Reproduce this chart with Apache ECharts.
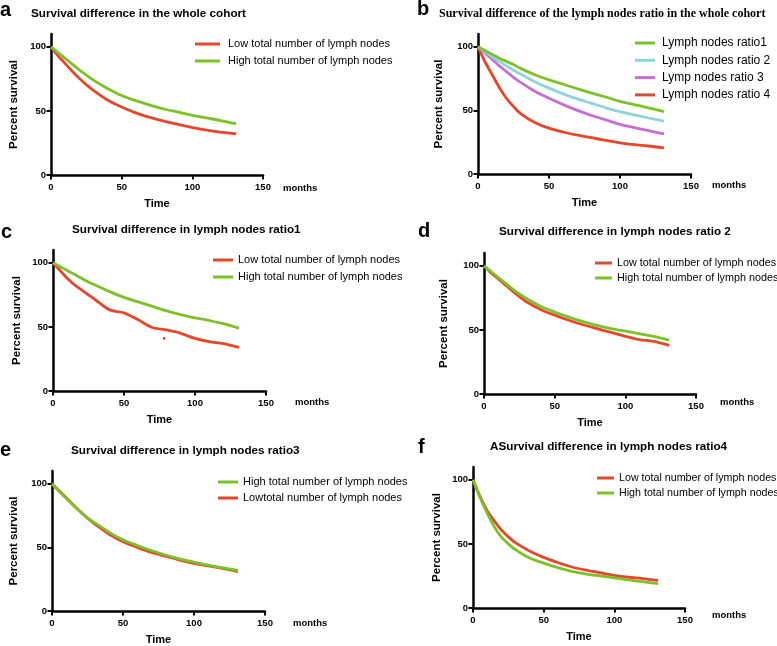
<!DOCTYPE html>
<html>
<head>
<meta charset="utf-8">
<script src="https://cdn.jsdelivr.net/npm/echarts@6/dist/echarts.min.js"></script>
<style>html,body{margin:0;padding:0;background:#fff}#c{width:777px;height:646px}</style>
</head>
<body>
<div id="c"></div>
<script>
// ---- data ----
var months = [0, 5, 10, 15, 20, 25, 30, 40, 50, 60, 70, 80, 90, 100, 110, 120, 131];
var yTicks = [0, 50, 100];

var aLow  = [100, 93, 87, 81, 75.5, 70.5, 66, 58.5, 53, 48.5, 45, 42, 39.5, 37, 35, 33.5, 32];
var aHigh = [100, 95.5, 91, 86.5, 82, 78, 74, 67.5, 62, 58, 54.5, 51.5, 49, 46.5, 44.5, 42.5, 40];

var bR1 = [100, 97, 94, 91, 88.5, 86, 83, 78, 74, 70.5, 67, 63.5, 60.5, 57, 54.5, 52, 49];
var bR2 = [100, 96, 92, 88.5, 85, 81.5, 78.5, 72.5, 67.5, 63, 59, 55.5, 52, 49, 46.5, 44, 41.5];
var bR3 = [100, 95, 90, 85, 80.5, 76, 72, 65, 59.5, 54.5, 50, 46, 42.5, 39, 36.5, 34, 31.5];
var bR4 = [100, 88, 78, 68, 59.5, 53, 47.5, 40.5, 36, 33, 30.5, 28.5, 26.5, 24.5, 23, 22, 20.5];

var cLow  = [100, 94, 88, 83, 79, 75, 71, 63.3, 61, 55.5, 49.5, 47.6, 45, 41, 38.5, 37, 34];
var cHigh = [100, 97, 94, 91, 88, 85, 82.5, 77.5, 73, 69.5, 66, 62.5, 59.5, 57, 55, 52.5, 49];
var cStrayT = [77.5, 79];
var cStrayV = [41, 41];

var dLow  = [100, 94.5, 90, 85, 80.5, 76, 72, 66, 61.5, 57.5, 54, 51, 48, 45, 42.5, 41, 38];
var dHigh = [100, 95.5, 91, 86.5, 82, 78, 74.5, 68.5, 64, 60, 56.5, 53.5, 51, 49, 47, 45, 42];

var eHigh = [100, 94, 88.5, 83, 78, 73, 69.5, 62, 56, 51.5, 47.5, 44, 41, 38.5, 36, 34, 32];
var eLow  = [100, 94.5, 89, 83.5, 78, 73, 68.5, 60.5, 54.5, 50, 46, 43, 40, 37.5, 35.5, 33.5, 31];

var fLow  = [100, 87, 76, 68, 61, 55.5, 51, 44.5, 39.5, 35.5, 32, 29.5, 27.5, 25.5, 24, 23, 21.5];
var fHigh = [100, 86, 74, 63.5, 55.5, 50, 45.5, 39, 35, 31.5, 28.5, 26.5, 25, 23.5, 22, 20.5, 19];

var nLow = 'Low total number of lymph nodes';
var nHigh = 'High total number of lymph nodes';
var nLowE = 'Lowtotal number of lymph nodes';
var nR = ['Lymph nodes ratio1', 'Lymph nodes ratio 2', 'Lymp nodes ratio 3', 'Lymph nodes ratio 4'];

var titles = [
  'Survival difference in the whole cohort',
  'Survival difference of the lymph nodes ratio in the whole cohort',
  'Survival difference in lymph nodes ratio1',
  'Survival difference in lymph nodes ratio 2',
  'Survival difference in lymph nodes ratio3',
  'ASurvival difference in lymph nodes ratio4'
];
var letters = ['a', 'b', 'c', 'd', 'e', 'f'];

// ---- styling ----
var RED = '#e4472c', GREEN = '#7cc128', CYAN = '#8fd5d8', PURPLE = '#c56fd3';
var FONT = 'Liberation Sans, Arial, sans-serif';

function pairs(t, v) { return t.map(function (x, i) { return [x, v[i]]; }); }

var grids = [
  {left: 51, top: 34, width: 212, height: 141},
  {left: 478, top: 34, width: 213, height: 140},
  {left: 53, top: 250, width: 213, height: 141},
  {left: 484, top: 253, width: 212, height: 141},
  {left: 52, top: 471, width: 213, height: 141},
  {left: 473, top: 467, width: 212, height: 141}
];
var yGaps = [31, 33, 30, 34, 32, 30];

var xAxes = [], yAxes = [];
grids.forEach(function (g, i) {
  xAxes.push({
    type: 'value', gridIndex: i, min: 0, max: 150, interval: 50,
    name: 'Time', nameLocation: 'middle', nameGap: 23,
    nameTextStyle: {fontFamily: FONT, fontWeight: 'bold', fontSize: 11, color: '#000'},
    axisLine: {show: true, onZero: false, lineStyle: {color: '#000', width: 2.5}},
    axisTick: {show: true, length: 4.5, lineStyle: {color: '#000', width: 2}},
    axisLabel: {fontFamily: FONT, fontWeight: 'bold', fontSize: 9.5, color: '#000', margin: 7},
    splitLine: {show: false}
  });
  yAxes.push({
    type: 'value', gridIndex: i, min: 0, max: 110,
    name: 'Percent survival', nameLocation: 'middle', nameGap: yGaps[i], nameRotate: 90,
    nameTextStyle: {fontFamily: FONT, fontWeight: 'bold', fontSize: 11.5, color: '#000'},
    axisLine: {show: true, onZero: false, lineStyle: {color: '#000', width: 2.5}},
    axisTick: {show: true, length: 4.5, customValues: yTicks, lineStyle: {color: '#000', width: 2}},
    axisLabel: {fontFamily: FONT, fontWeight: 'bold', fontSize: 9.5, color: '#000', margin: 5, customValues: yTicks},
    splitLine: {show: false}
  });
});

function line(name, idx, t, v, color, z) {
  return {
    type: 'line', name: name, xAxisIndex: idx, yAxisIndex: idx,
    data: pairs(t, v), showSymbol: false, symbol: 'none', smooth: 0.3,
    lineStyle: {color: color, width: 2.8}, itemStyle: {color: color},
    z: z || 2, animation: false
  };
}

var series = [
  line(nLow, 0, months, aLow, RED),
  line(nHigh, 0, months, aHigh, GREEN),
  line(nR[3], 1, months, bR4, RED),
  line(nR[2], 1, months, bR3, PURPLE),
  line(nR[1], 1, months, bR2, CYAN),
  line(nR[0], 1, months, bR1, GREEN),
  line(nLow, 2, months, cLow, RED),
  line('c-stray', 2, cStrayT, cStrayV, RED),
  line(nHigh, 2, months, cHigh, GREEN),
  line(nLow, 3, months, dLow, RED),
  line(nHigh, 3, months, dHigh, GREEN, 3),
  line(nLowE, 4, months, eLow, RED),
  line(nHigh, 4, months, eHigh, GREEN, 3),
  line(nLow, 5, months, fLow, RED),
  line(nHigh, 5, months, fHigh, GREEN)
];

function legend(names, left, top, w, gap, fs, pad) {
  return {
    data: names, orient: 'vertical', left: left, top: top, padding: 0,
    icon: 'rect', itemWidth: w, itemHeight: 3, itemGap: gap, selectedMode: false,
    textStyle: {fontFamily: FONT, fontSize: fs, color: '#000', lineHeight: 14, padding: [0, 0, 0, pad]}
  };
}

var legends = [
  legend([nLow, nHigh], 195, 37, 25, 3, 11, 3),
  legend(nR, 635, 36, 20, 3.3, 12, 2),
  legend([nLow, nHigh], 213, 253, 20, 3, 11, 0),
  legend([nLow, nHigh], 595, 256, 17, 1, 10.8, 0),
  legend([nHigh, nLowE], 218, 475, 20, 2, 11, 0),
  legend([nLow, nHigh], 597, 471, 17, 1, 10.7, 0)
];

var titlePos = [[31, 14], [439, 14], [72, 230], [499, 232], [71, 451], [490, 447]];
var letterPos = [[0, 10], [417, 9], [1, 232], [418, 231], [0, 450], [418, 447]];
var monthsPos = [[283, 188], [712, 185], [295, 402], [720, 402], [293, 623], [712, 615]];

var graphics = [];
titles.forEach(function (t, i) {
  graphics.push({
    type: 'text', x: titlePos[i][0], y: titlePos[i][1], silent: true,
    style: {text: t, fill: '#000', verticalAlign: 'middle',
      font: i === 1 ? 'bold 12px "Liberation Serif", "Times New Roman", serif' : 'bold 11.7px ' + FONT}
  });
  graphics.push({
    type: 'text', x: letterPos[i][0], y: letterPos[i][1], silent: true,
    style: {text: letters[i], fill: '#000', verticalAlign: 'middle', font: 'bold 20px ' + FONT}
  });
  graphics.push({
    type: 'text', x: monthsPos[i][0], y: monthsPos[i][1], silent: true,
    style: {text: 'months', fill: '#000', verticalAlign: 'middle', font: 'bold 9.5px ' + FONT}
  });
});

var chart = echarts.init(document.getElementById('c'), null, {renderer: 'canvas'});
chart.setOption({
  backgroundColor: '#fff',
  animation: false,
  grid: grids,
  xAxis: xAxes,
  yAxis: yAxes,
  legend: legends,
  series: series,
  graphic: graphics
});
</script>
</body>
</html>
